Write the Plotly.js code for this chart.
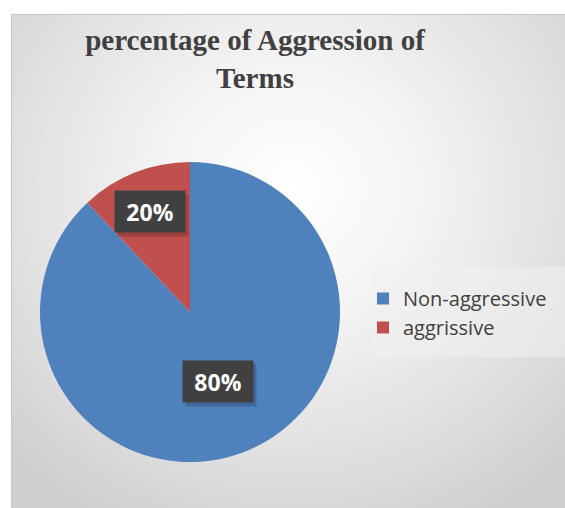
<!DOCTYPE html>
<html>
<head>
<meta charset="utf-8">
<script src="https://cdn.plot.ly/plotly-3.0.1.min.js"></script>
<style>
  html, body { margin: 0; padding: 0; background: #ffffff; }
  #wrap { position: relative; width: 565px; height: 508px; overflow: hidden; }
  #frame {
    position: absolute; left: 11px; top: 14px; width: 560px; height: 500px;
    box-sizing: border-box; border: 1px solid #c6c6c6;
    background: radial-gradient(ellipse 70% 75% at 50% 35%, #ffffff 0%, #f3f3f3 35%, #dedede 75%, #cfcfcf 100%);
  }
  #chart { position: absolute; left: 0; top: 0; width: 565px; height: 508px; }
</style>
</head>
<body>
<div id="wrap">
  <div id="frame"></div>
  <div id="chart"></div>
</div>
<script>
const categories = ["Non-aggressive", "aggrissive"];
const values = [88, 12];
const valueLabels = ["80%", "20%"];
const colors = ["#4f81bd", "#c0504d"];

const W = 565, H = 508;
const cx = 190, cy = 312, R = 150;
const labelRadius = [0.5, 0.72];

const total = values.reduce((a, b) => a + b, 0);
let start = 0;
const annotations = [];
values.forEach((v, i) => {
  const mid = (start + v / 2) / total * 2 * Math.PI;
  start += v;
  const px = cx + R * labelRadius[i] * Math.sin(mid);
  const py = cy - R * labelRadius[i] * Math.cos(mid);
  const base = {
    xref: "paper", yref: "paper",
    x: px / W, y: 1 - py / H,
    showarrow: false,
    width: 70, height: 41, borderpad: 0,
    xanchor: "center", yanchor: "middle"
  };
  annotations.push(Object.assign({}, base, {
    text: " ", bgcolor: "rgba(0,0,0,0.18)", xshift: 3, yshift: -4
  }));
  annotations.push(Object.assign({}, base, {
    text: "<b>" + valueLabels[i] + "</b>",
    font: { family: "Open Sans, sans-serif", size: 23, color: "#ffffff" },
    bgcolor: "#404040"
  }));
});

const trace = {
  type: "pie",
  labels: categories,
  values: values,
  sort: false,
  direction: "clockwise",
  rotation: 0,
  textinfo: "none",
  hoverinfo: "label+percent",
  marker: { colors: colors, line: { width: 0 } },
  domain: { x: [(cx - R) / W, (cx + R) / W], y: [1 - (cy + R) / H, 1 - (cy - R) / H] },
  automargin: false
};

const layout = {
  width: W, height: H,
  margin: { l: 0, r: 0, t: 0, b: 0 },
  paper_bgcolor: "rgba(0,0,0,0)",
  plot_bgcolor: "rgba(0,0,0,0)",
  title: {
    text: "<b>percentage of Aggression of<br>Terms</b>",
    font: { family: "Liberation Serif, Times New Roman, serif", size: 29, color: "#404040" },
    x: 255 / W, xanchor: "center", xref: "paper",
    y: 1 - 50 / H, yanchor: "top", yref: "paper"
  },
  showlegend: true,
  legend: {
    x: 363 / W, y: 1 - 313 / H, xanchor: "left", yanchor: "middle",
    bgcolor: "rgba(0,0,0,0)",
    font: { family: "Open Sans, sans-serif", size: 20, color: "#404040" },
    tracegroupgap: 0
  },
  shapes: [{
    type: "rect", xref: "paper", yref: "paper",
    x0: 371 / W, x1: 1, y0: 1 - 357 / H, y1: 1 - 267 / H,
    fillcolor: "rgba(240,240,240,0.55)", line: { width: 0 }, layer: "below"
  }],
  annotations: annotations
};

Plotly.newPlot("chart", [trace], layout, { displayModeBar: false, staticPlot: true });
</script>
</body>
</html>
